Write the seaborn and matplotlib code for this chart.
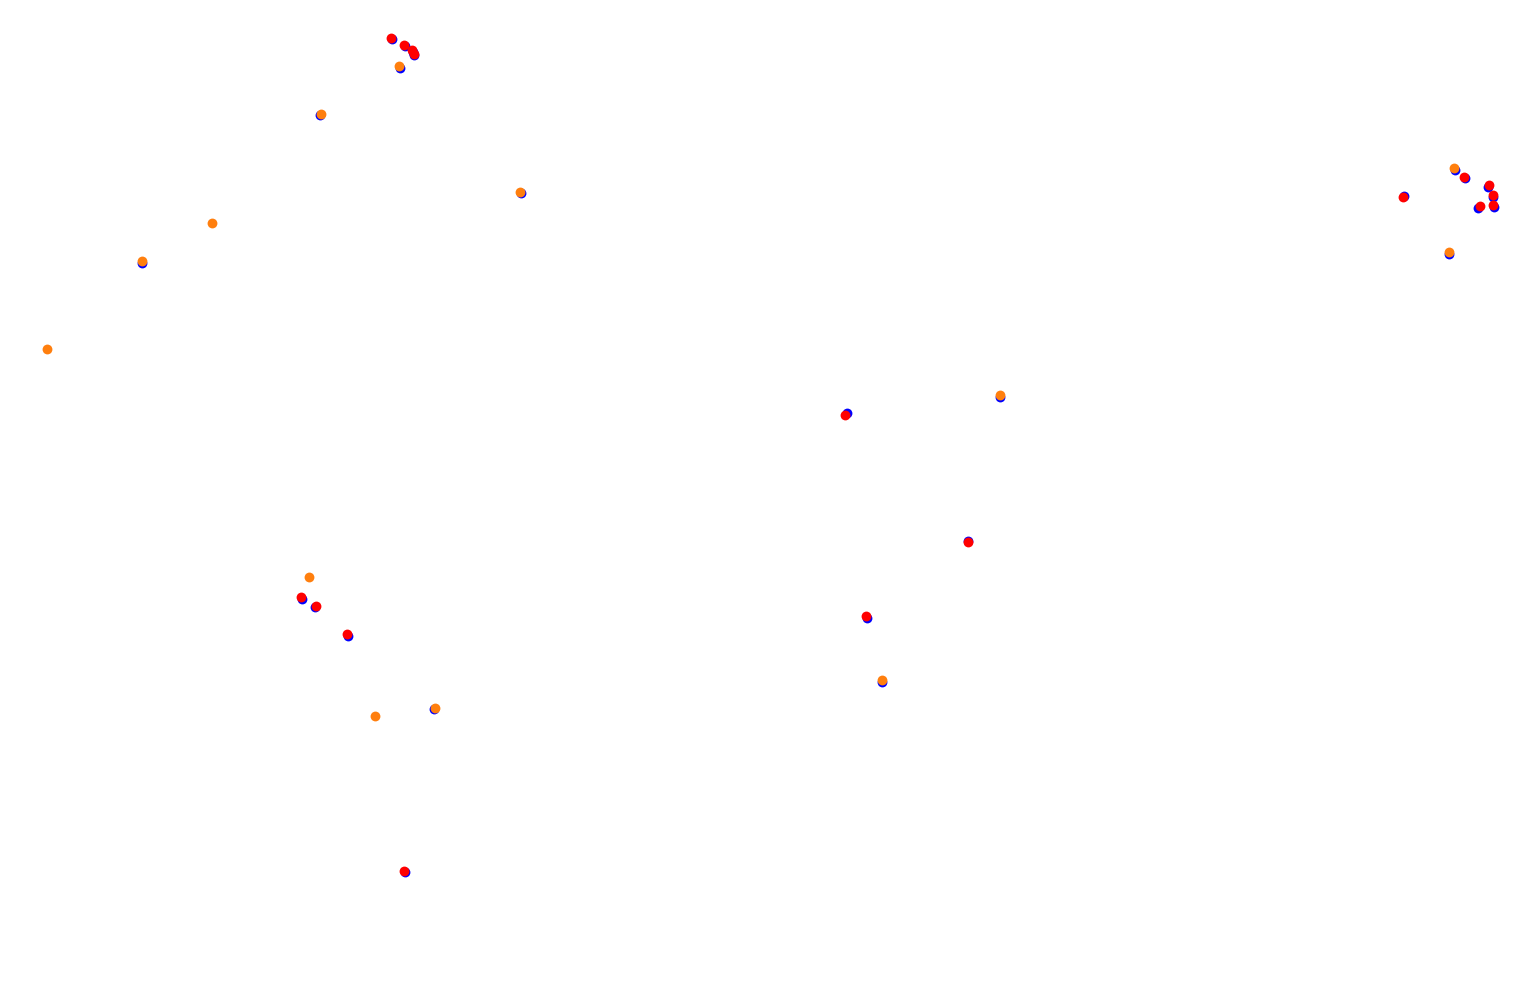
import matplotlib
matplotlib.use("Agg")
import matplotlib.pyplot as plt
import seaborn as sns
import pandas as pd

# Series coordinates (map units, y grows downward)
blue_x = [392, 405, 413, 414, 400, 1455, 1465, 1488, 1493, 1494, 1478, 1404, 1449,
          302, 315, 348, 847, 1000, 968, 867, 882, 405, 320, 521, 142, 434]
blue_y = [39, 46, 52, 55, 68, 170, 178, 187, 197, 207, 208, 196, 254,
          599, 607, 636, 413, 397, 541, 618, 682, 872, 115, 193, 263, 709]

red_x = [391, 404, 412, 414, 1464, 1489, 1493, 1493, 1480, 1403, 301, 316, 347, 845, 968, 866, 404]
red_y = [38, 45, 50, 54, 177, 185, 195, 205, 206, 197, 597, 606, 634, 415, 542, 616, 871]

orange_x = [399, 1454, 1449, 309, 1000, 882, 321, 520, 47, 212, 375, 142, 435]
orange_y = [66, 168, 252, 577, 395, 680, 114, 192, 349, 223, 716, 261, 708]

series_names = ["blue", "red", "orange"]
series_colors = {"blue": "#0000ff", "red": "#ff0000", "orange": "#ff7f0e"}

df = pd.concat([
    pd.DataFrame({"x": blue_x, "y": blue_y, "s": "blue"}),
    pd.DataFrame({"x": red_x, "y": red_y, "s": "red"}),
    pd.DataFrame({"x": orange_x, "y": orange_y, "s": "orange"}),
], ignore_index=True)

sns.set_style("white")
fig = plt.figure(figsize=(15.33, 9.85), dpi=100)
ax = fig.add_axes([0, 0, 1, 1])
for name in series_names:
    sub = df[df["s"] == name]
    sns.scatterplot(data=sub, x="x", y="y", color=series_colors[name], s=50,
                    linewidth=0, ax=ax, legend=False)
ax.set_xlim(0, 1533)
ax.set_ylim(985, 0)
ax.axis("off")
fig.savefig("out.png", dpi=100, facecolor="white")
